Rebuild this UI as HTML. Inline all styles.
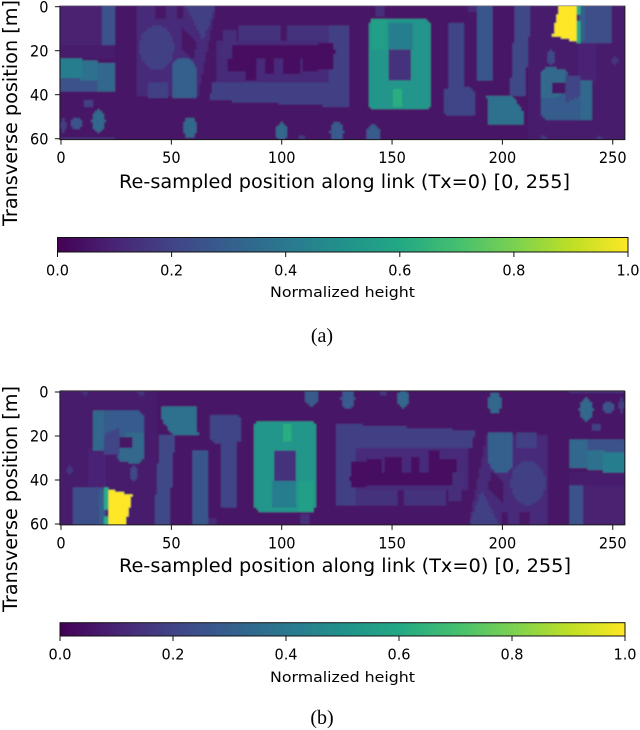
<!DOCTYPE html>
<html lang="en">
<head>
<meta charset="utf-8">
<title>Normalized height maps</title>
<style>
html,body{margin:0;padding:0;background:#fff;}
svg{display:block;}
text{font-family:"DejaVu Sans","Liberation Sans",sans-serif;fill:#000;}
.cap{font-family:"Liberation Serif",serif;font-size:20px;}
</style>
</head>
<body>
<svg id="fig" width="640" height="730" viewBox="0 0 640 730" xmlns="http://www.w3.org/2000/svg">
  <defs>
    <filter id="soft" x="-2%" y="-5%" width="104%" height="110%"><feGaussianBlur stdDeviation="0.8"/></filter>
    <clipPath id="clipA"><rect x="60" y="5.6" width="565" height="134"/></clipPath>
    <clipPath id="clipB"><rect x="60" y="391" width="565" height="134"/></clipPath>
    <linearGradient id="cbGrad" x1="0" x2="1" y1="0" y2="0"></linearGradient>
  </defs>
  <g id="panelA"></g>
  <g id="panelB"></g>

  <text x="119" y="188" font-size="18.5" textLength="451" lengthAdjust="spacingAndGlyphs">Re-sampled position along link (Tx=0) [0, 255]</text>
  <text transform="translate(17,226) rotate(-90)" font-size="19.5" textLength="226" lengthAdjust="spacingAndGlyphs">Transverse position [m]</text>
  <text x="270" y="297" font-size="14.6" textLength="145" lengthAdjust="spacingAndGlyphs">Normalized height</text>
  <text class="cap" x="322" y="342" text-anchor="middle">(a)</text>

  <text x="119" y="572" font-size="18.5" textLength="452" lengthAdjust="spacingAndGlyphs">Re-sampled position along link (Tx=0) [0, 255]</text>
  <text transform="translate(17,612) rotate(-90)" font-size="19.5" textLength="226" lengthAdjust="spacingAndGlyphs">Transverse position [m]</text>
  <text x="270" y="682" font-size="14.6" textLength="145" lengthAdjust="spacingAndGlyphs">Normalized height</text>
  <text class="cap" x="322" y="724" text-anchor="middle">(b)</text>
</svg>
<script>
// Axis tick labels
const xTicks = [0, 50, 100, 150, 200, 250];
const yTicks = [0, 20, 40, 60];
const colorbarTicks = [0.0, 0.2, 0.4, 0.6, 0.8, 1.0];
// Viridis colour ramp, sampled every 0.1
const viridis = ['#440154','#482475','#414487','#355f8d','#2a788e','#21918c','#22a884','#44bf70','#7ad151','#bddf26','#fde725'];
// Grid size of the height map: positions along link and transverse positions
const gridCols = 256;
const gridRows = 61;
// Height footprints, [height, x0, y0, x1, y1, ...] in link / transverse units.
// Four coordinates make a rectangle, more make a polygon.
const groundHeights = [
  [0.055, 0,0,256,61],
  [0.09, 0,0,19,18],
  [0.075, 0,18,25,24],
  [0.12, 35,0,70,0,62,41,34,41],
  [0.075, 212,0,256,61],
  [0.10, 235,17,243,35]
];
const ovalHeights = [
  [0.19, 43.4,18.7,7.8,10]
];
const buildingHeights = [
  [0.25, 19,0,25,18],
  [0.25, 0,33,18,39],
  [0.33, 17,26,25,39],
  [0.37, 9,25,17,34],
  [0.42, 0,24,10,33],
  [0.05, 43,0,48,6],
  [0.05, 52.5,0,56,6],
  [0.19, 57,0,70,0,64.5,15],
  [0.05, 55,9,62,16,60,24,55,19],
  [0.30, 51,26,53,24,59,24,61.5,28,61.5,41.5,51,41.5],
  [0.19, 40,35,49,35,49,41.5,40,41.5],
  [0.125, 70.5,16,125,16,125,35,70.5,35],
  [0.19, 69,35,129,35,129,45.5,67.5,42.5],
  [0.14, 80.4,9,100,9,100,16,80.4,16],
  [0.14, 102.3,9,122,9,122,16,102.3,16],
  [0.13, 74,10.6,80,10.6,78,24,72,24],
  [0.19, 122,8.4,131,8.4,131,45.5,122,45.5],
  [0.04, 78,17.5,122,17.5,125,20,122,23.5,78,23.5],
  [0.04, 76,23.5,83.4,23.5,83.4,30,76,30],
  [0.04, 84,23.5,88.7,23.5,88.7,34,84,34],
  [0.04, 92.4,23.5,97,23.5,97,31,92.4,31],
  [0.04, 100.7,23.5,108.3,23.5,108.3,31,100.7,31],
  [0.04, 110,23.5,116.6,23.5,116.6,30,110,30],
  [0.04, 117,17,124,17,124,29,117,29],
  [0.13, 143,0,147,0,147,5,143,5],
  [0.52, 140,8,141,6,166,6,167.2,8,167.2,45,166,47,141,46.5,139.3,45],
  [0.56, 141,6,148,6,148,20,141,20],
  [0.42, 149,8,160,8,160,20,149,20],
  [0.14, 148.4,20,158.2,20,158.2,33.8,148.4,33.8],
  [0.62, 150.6,38,155,38,155,46,150.6,46],
  [0.20, 175.6,8,182.4,8,182.4,37,175.6,37],
  [0.20, 174,38,176,37,186,37,187.6,39,187.6,49,186,49.5,175,49.5,174,48],
  [0.12, 185,0,189,0,189,3,185,3],
  [0.27, 188.4,0,196,0,196,34,188.4,34],
  [0.22, 206,0,213,0,210,41,203.5,41],
  [0.37, 193,41,205,41,209.5,48,209.5,53.5,194,53],
  [0.24, 235,0,250,0,250,17,235,17],
  [0.30, 235.5,0,238,0,238,16,235.5,16],
  [0.62, 234,0,235.5,0,235.5,4,234,4],
  [0.62, 234,7,235.5,7,235.5,16.5,234,16.5],
  [1.00, 226,0,234,0,234,16,223,13,224,8],
  [0.29, 218,30,220,27,229,29,230,36,240,34,241,52,220,51,218,49],
  [0.34, 218,30,220,27,229,29,229,38,224,42,218,42],
  [0.20, 229,32,236,32,236,40,229,44],
  [0.05, 223,35,228.5,35,228.5,39.7,223,39.7],
  [0.33, 236,34,241,34,241,52,236,52]
];
// Trees and small structures, [height, cx, cy, rx, ry]
const treeHeights = [
  [0.33, 17,52,3,5],
  [0.25, 7,53,2.4,2.8],
  [0.19, 12.4,44,2,2],
  [0.18, 1,54,1.2,3],
  [0.14, 12,60.5,13,1.4],
  [0.33, 58.5,55,3.2,4.8],
  [0.33, 100,57,2.8,4.2],
  [0.15, 109,59.5,1.6,1.3],
  [0.28, 125,57,3,4.6],
  [0.28, 141.6,58,3,4.2],
  [0.22, 222,23,1.5,3.6],
  [0.15, 251,24.5,1.8,1.6],
  [0.15, 218.6,60,1.5,1.1],
  [0.15, 244,60,1.5,1.1]
];

const NS = 'http://www.w3.org/2000/svg';
function svgEl(tag, attrs) {
  const el = document.createElementNS(NS, tag);
  for (const k in attrs) el.setAttribute(k, attrs[k]);
  return el;
}
function colorOf(v) {
  const t = Math.max(0, Math.min(1, v)) * (viridis.length - 1);
  const i = Math.min(viridis.length - 2, Math.floor(t));
  const f = t - i;
  const a = viridis[i], b = viridis[i + 1];
  let out = 'rgb(';
  for (let n = 0; n < 3; n++) {
    const ca = parseInt(a.substr(1 + n * 2, 2), 16);
    const cb = parseInt(b.substr(1 + n * 2, 2), 16);
    out += Math.round(ca + (cb - ca) * f) + (n < 2 ? ',' : ')');
  }
  return out;
}
function inPoly(px, py, c) {
  let inside = false;
  const n = c.length / 2;
  for (let i = 0, j = n - 1; i < n; j = i++) {
    const xi = c[i * 2], yi = c[i * 2 + 1], xj = c[j * 2], yj = c[j * 2 + 1];
    if ((yi > py) !== (yj > py) && px < (xj - xi) * (py - yi) / (yj - yi) + xi) inside = !inside;
  }
  return inside;
}
function buildGrid() {
  const grid = [];
  for (let r = 0; r < gridRows; r++) grid.push(new Array(gridCols).fill(0));
  function paint(test, v) {
    for (let r = 0; r < gridRows; r++) for (let c = 0; c < gridCols; c++) if (test(c, r)) grid[r][c] = v;
  }
  function paintAreas(list) {
    list.forEach(function (e) {
      const v = e[0], c = e.slice(1);
      if (c.length === 4) paint(function (x, y) { return x >= c[0] && x < c[2] && y >= c[1] && y < c[3]; }, v);
      else paint(function (x, y) { return inPoly(x, y, c); }, v);
    });
  }
  function paintOvals(list) {
    list.forEach(function (e) {
      paint(function (x, y) {
        const dx = (x - e[1]) / e[3], dy = (y - e[2]) / e[4];
        return dx * dx + dy * dy <= 1;
      }, e[0]);
    });
  }
  paintAreas(groundHeights);
  paintOvals(ovalHeights);
  paintAreas(buildingHeights);
  paintOvals(treeHeights);
  return grid;
}
const heightGrid = buildGrid();

viridis.forEach(function (c, i) {
  const s = svgEl('stop', { offset: i / (viridis.length - 1), 'stop-color': c });
  document.getElementById('cbGrad').appendChild(s);
});

// Width the digits occupy in the reference (narrower than the font's natural width)
function tickWidth(str) {
  let w = 0;
  for (const ch of str) w += (ch === '.' ? 0.318 : 0.636) * 14.5;
  return w;
}

function drawPanel(rootId, clipId, y0px, flip, topColor) {
  const root = document.getElementById(rootId);
  const xScale = function (v) { return 61 + 2.207 * v; };
  const yScale = function (v) { return y0px + 2.2 * v; };
  const clip = svgEl('g', { 'clip-path': 'url(#' + clipId + ')' });
  
  
  const bg = svgEl('rect', { x: 55, y: y0px - 5, width: 575, height: 145, fill: colorOf(0.055) });
  
  
  clip.appendChild(bg);
  const soft = svgEl('g', { filter: 'url(#soft)', 'shape-rendering': 'crispEdges' });
  
  
  for (let r = 0; r < gridRows; r++) {
    const src = heightGrid[flip ? gridRows - 1 - r : r];
    let c = 0;
    while (c < gridCols) {
      const v = src[flip ? gridCols - 1 - c : c];
      let e = c + 1;
      while (e < gridCols && src[flip ? gridCols - 1 - e : e] === v) e++;
      const cell = svgEl('rect', {
        x: xScale(c - 0.5), y: yScale(r - 0.5),
        width: xScale(e - 0.5) - xScale(c - 0.5) + 0.2,
        height: yScale(r + 0.5) - yScale(r - 0.5) + 0.2,
        fill: colorOf(v)
      });
      
      
      soft.appendChild(cell);
      c = e;
    }
  }
  clip.appendChild(soft);
  root.appendChild(clip);

  const left = xScale(-0.5), right = xScale(255.5), top = yScale(-0.5), bottom = yScale(60.4);
  const frame = svgEl('path', { d: 'M' + left + ' ' + top + 'V' + bottom + 'H' + right + 'V' + top, fill: 'none', stroke: '#1a1a1a', 'stroke-width': 1 });
  
  
  root.appendChild(frame);
  const topSpine = svgEl('line', { x1: left, x2: right, y1: top, y2: top, stroke: topColor, 'stroke-width': 1 });
  
  
  root.appendChild(topSpine);

  xTicks.forEach(function (t) {
    const x = xScale(t);
    const tick = svgEl('line', { x1: x, x2: x, y1: bottom, y2: bottom + 5, stroke: '#111', 'stroke-width': 1 });
    
    
    root.appendChild(tick);
    const label = svgEl('text', { x: x, y: bottom + 23.5, 'font-size': 15.6, 'text-anchor': 'middle', textLength: tickWidth(String(t)), lengthAdjust: 'spacingAndGlyphs' });
    
    
    label.textContent = String(t);
    root.appendChild(label);
  });
  yTicks.forEach(function (t) {
    const y = yScale(t);
    const tick = svgEl('line', { x1: left, x2: left - 5, y1: y, y2: y, stroke: '#111', 'stroke-width': 1 });
    
    
    root.appendChild(tick);
    const label = svgEl('text', { x: 48.5, y: y + 5.6, 'font-size': 15.6, 'text-anchor': 'end', textLength: tickWidth(String(t)), lengthAdjust: 'spacingAndGlyphs' });
    
    
    label.textContent = String(t);
    root.appendChild(label);
  });
}

function drawColorbar(rootId, x0, x1, top, bottom, labelY) {
  const root = document.getElementById(rootId);
  const cbScale = function (v) { return x0 + (x1 - x0) * v; };
  const bar = svgEl('rect', { x: x0, y: top, width: x1 - x0, height: bottom - top, fill: 'url(#cbGrad)', stroke: '#111', 'stroke-width': 1 });
  
  
  root.appendChild(bar);
  colorbarTicks.forEach(function (t) {
    const x = cbScale(t);
    const tick = svgEl('line', { x1: x, x2: x, y1: bottom, y2: bottom + 5, stroke: '#111', 'stroke-width': 1 });
    
    
    root.appendChild(tick);
    const label = svgEl('text', { x: x, y: labelY, 'font-size': 15.4, 'text-anchor': 'middle', textLength: tickWidth(t.toFixed(1)), lengthAdjust: 'spacingAndGlyphs' });
    
    
    label.textContent = t.toFixed(1);
    root.appendChild(label);
  });
}

drawPanel('panelA', 'clipA', 6.7, false, '#aaaaaa');
drawPanel('panelB', 'clipB', 392, true, '#333333');
drawColorbar('panelA', 57.5, 628, 237.5, 252, 275.5);
drawColorbar('panelB', 60, 625, 622.7, 636, 659.5);
</script>
</body>
</html>
